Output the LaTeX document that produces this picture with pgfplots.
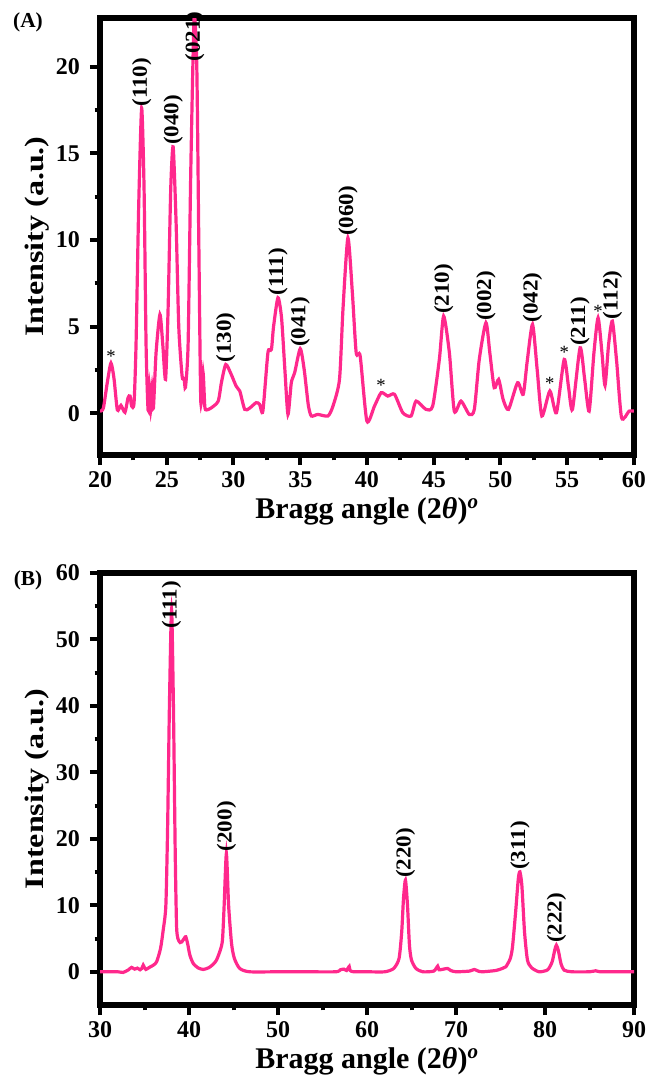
\documentclass[border=0pt]{standalone}
\usepackage{graphicx}
\usepackage{pgfplots}
\pgfplotsset{compat=1.18}
\usepackage{fontspec}
\setmainfont{Liberation Serif}
\definecolor{xrdpink}{RGB}{255,40,140}
\newcommand{\pk}{\bfseries\fontsize{16}{16}\selectfont}
\newcommand{\lb}[1]{\scalebox{1.08}[1]{#1}}
\begin{document}
\begin{tikzpicture}
\useasboundingbox (0,0) rectangle (484.5pt,-808.5pt);
\pgfplotsset{
  xrd/.style={
    scale only axis,
    width=400.5pt,
    axis line style={line width=3.8pt},
    every tick/.style={line width=3pt, black},
    tick align=outside,
    major tick length=7.5pt,
    minor tick length=4pt,
    tick pos=left,
    minor tick num=1,
    clip mode=individual,
    /pgf/number format/assume math mode=true,
    ticklabel style={font=\bfseries\fontsize{18}{18}\selectfont},
    xticklabel style={yshift=-1.5pt},
    yticklabel style={xshift=-4pt},
    xlabel style={font=\bfseries\fontsize{22.5}{22.5}\selectfont, yshift=0pt},
    ylabel style={font=\bfseries\fontsize{20}{20}\selectfont, yshift=-2pt},
    xlabel={Bragg angle (2\textit{θ})\textsuperscript{\textit{o}}},
    ylabel={\scalebox{1.2}[1]{Intensity (a.u.)}},
  }
}
% ---------------- Panel A ----------------
\begin{axis}[xrd, at={(75pt,-13.5pt)}, anchor=north west, height=327.75pt,
  xmin=20, xmax=60, ymin=-2.4, ymax=22.8,
  xtick={20,25,...,60}, ytick={0,5,...,20}]
\addplot[xrdpink, line width=2.4pt, smooth, tension=0.4] coordinates {
(20,0.13)(20.25,0.3)(20.55,1.8)(20.82,2.9)(21.05,2.0)(21.3,0.2)(21.57,0.46)(21.87,0.06)
(22.1,0.9)(22.25,1.0)(22.37,0.42)(22.55,0.6)(22.7,4)(22.9,12)(23.12,17.6)(23.3,13)
(23.45,4)(23.6,0.2)(23.7,1.6)(23.8,0.2)(23.9,1.5)(24.0,0.3)(24.2,3.5)(24.49,5.7)
(24.7,4.0)(24.91,1.96)(25.1,6)(25.3,13)(25.48,15.37)(25.7,11)(25.9,5)(26.15,2.15)
(26.3,2.0)(26.4,1.5)(26.6,4)(26.8,14)(27.05,22.8)(27.25,20)(27.4,10)(27.55,0.7)
(27.72,2.35)(27.85,0.4)(27.97,0.2)(28.3,0.3)(28.85,0.7)(29.1,1.8)(29.42,2.82)(29.8,2.3)
(30.2,1.57)(30.47,1.29)(30.84,0.23)(31.2,0.3)(31.7,0.62)(31.96,0.52)(32.2,0.13)(32.58,3.5)
(32.84,3.69)(33.0,5)(33.33,6.67)(33.6,5.5)(33.85,2.5)(34.08,-0.06)(34.33,1.77)(34.58,2.34)
(35.0,3.73)(35.3,2.5)(35.6,0.5)(35.83,-0.15)(36.32,-0.06)(37.07,-0.15)(37.45,0.42)(37.94,1.96)
(38.2,6)(38.57,10.12)(38.9,7)(39.19,3.5)(39.49,3.3)(39.99,-0.44)(40.56,0.42)(41.06,1.19)
(41.56,1.0)(42.06,1.1)(42.68,0.04)(43.3,-0.15)(43.68,0.71)(44.42,0.23)(44.92,0.42)(45.42,3.11)
(45.74,5.61)(46.17,3.5)(46.54,0.13)(47.04,0.71)(47.66,-0.06)(48.04,0.23)(48.41,3.11)(48.91,5.23)
(49.2,3.5)(49.53,1.48)(49.86,1.96)(50.2,0.8)(50.6,0.23)(51.28,1.77)(51.7,1.1)(52.0,3)
(52.4,5.13)(52.75,2.5)(53.1,-0.15)(53.7,1.29)(54.19,0.04)(54.77,3.11)(55.1,1.5)(55.39,0.23)
(55.96,3.78)(56.3,2)(56.64,0.13)(57.0,3.5)(57.31,5.51)(57.6,3.5)(57.83,1.61)(58.1,4)
(58.38,5.32)(58.7,3)(59.07,-0.25)(59.63,0.13)(60,0.13)
};
\node[rotate=90,anchor=west,font=\pk,inner sep=1pt] at (axis cs:23.12,17.6) {\lb{(110)}};
\node[rotate=90,anchor=west,font=\pk,inner sep=1pt] at (axis cs:25.48,15.4) {\lb{(040)}};
\node[rotate=90,anchor=west,font=\pk,inner sep=1pt] at (axis cs:27.1,20.2) {\lb{(021)}};
\node[rotate=90,anchor=west,font=\pk,inner sep=1pt] at (axis cs:29.42,2.85) {\lb{(130)}};
\node[rotate=90,anchor=west,font=\pk,inner sep=1pt] at (axis cs:33.33,6.7) {\lb{(111)}};
\node[rotate=90,anchor=west,font=\pk,inner sep=1pt] at (axis cs:35.0,3.75) {\lb{(041)}};
\node[rotate=90,anchor=west,font=\pk,inner sep=1pt] at (axis cs:38.57,10.15) {\lb{(060)}};
\node[rotate=90,anchor=west,font=\pk,inner sep=1pt] at (axis cs:45.74,5.65) {\lb{(210)}};
\node[rotate=90,anchor=west,font=\pk,inner sep=1pt] at (axis cs:48.91,5.25) {\lb{(002)}};
\node[rotate=90,anchor=west,font=\pk,inner sep=1pt] at (axis cs:52.4,5.15) {\lb{(042)}};
\node[rotate=90,anchor=west,font=\pk,inner sep=1pt] at (axis cs:55.96,3.8) {\lb{(211)}};
\node[rotate=90,anchor=west,font=\pk,inner sep=1pt] at (axis cs:58.38,5.35) {\lb{(112)}};
\node[anchor=base,font=\fontsize{14}{14}\selectfont,inner sep=0pt] at (axis cs:20.82,2.95) {*};
\node[anchor=base,font=\fontsize{14}{14}\selectfont,inner sep=0pt] at (axis cs:41.06,1.25) {*};
\node[anchor=base,font=\fontsize{14}{14}\selectfont,inner sep=0pt] at (axis cs:53.7,1.35) {*};
\node[anchor=base,font=\fontsize{14}{14}\selectfont,inner sep=0pt] at (axis cs:54.77,3.15) {*};
\node[anchor=base,font=\fontsize{14}{14}\selectfont,inner sep=0pt] at (axis cs:57.31,5.55) {*};
\end{axis}
% ---------------- Panel B ----------------
\begin{axis}[xrd, at={(75pt,-429.75pt)}, anchor=north west, height=324pt,
  xmin=30, xmax=90, ymin=-5, ymax=60,
  xtick={30,40,...,90}, ytick={0,10,...,60}]
\addplot[xrdpink, line width=2.4pt, smooth, tension=0.4] coordinates {
(30,0)(32,0)(32.6,-0.1)(33.2,0.3)(33.55,0.66)(33.9,0.4)(34.2,0.55)(34.5,0.3)(34.7,0.5)
(34.86,1.0)(35.0,0.6)(35.16,0.35)(35.6,0.7)(36.0,1.0)(36.36,1.5)(36.8,3.5)(37.1,6.27)
(37.4,10)(37.6,22)(37.8,40)(38.04,54.5)(38.25,40)(38.45,18)(38.6,7)(38.75,5.0)(39.0,4.4)
(39.2,4.5)(39.5,5.1)(39.64,5.26)(39.85,4.2)(40.1,2.5)(40.47,1.26)(41,0.6)(41.59,0.35)
(42.2,0.6)(42.7,1.1)(43.09,1.76)(43.5,3.2)(43.76,4.76)(43.95,10)(44.2,17.8)(44.45,10)
(44.78,4.26)(45.1,2.0)(45.7,0.5)(46.8,0)(50,0)(53,0)(56.5,0)(57.0,0.3)(57.4,0.4)(57.7,0.2)
(58.0,0.8)(58.1,0.2)(58.5,0)(60,0)(62,0)(63.0,0.5)(63.6,2.0)(63.9,6)(64.1,11)(64.32,13.8)
(64.55,10)(64.77,4)(65.0,1.76)(65.5,0.5)(66.26,0)(67.5,0.1)(67.94,0.85)(68.1,0.3)(68.6,0.4)
(69.06,0.5)(69.4,0.2)(70,0)(71.5,0.1)(72.05,0.35)(72.5,0.1)(73,0)(74.5,0.2)(75.2,0.5)
(75.6,0.75)(76.1,2)(76.35,3.76)(76.7,9)(77.0,14)(77.18,15.03)(77.4,13)(77.7,6)(78.03,1.76)
(78.5,0.6)(79.34,0)(80.3,0.3)(80.8,1.5)(81.1,3.3)(81.28,4.0)(81.5,3.2)(81.8,1.2)(82.15,0.25)
(83,0)(85,0)(85.7,0.15)(86.2,0)(88,0)(90,0)
};
\node[rotate=90,anchor=west,font=\pk,inner sep=1pt] at (axis cs:38.04,51.4) {\lb{(111)}};
\node[rotate=90,anchor=west,font=\pk,inner sep=1pt] at (axis cs:44.2,17.9) {\lb{(200)}};
\node[rotate=90,anchor=west,font=\pk,inner sep=1pt] at (axis cs:64.32,13.9) {\lb{(220)}};
\node[rotate=90,anchor=west,font=\pk,inner sep=1pt] at (axis cs:77.18,15.1) {\lb{(311)}};
\node[rotate=90,anchor=west,font=\pk,inner sep=1pt] at (axis cs:81.28,4.1) {\lb{(222)}};
\end{axis}
\node[font=\bfseries\fontsize{16}{16}\selectfont] at (21pt,-17pt) {(A)};
\node[font=\bfseries\fontsize{16}{16}\selectfont] at (21pt,-435pt) {(B)};
\end{tikzpicture}
\end{document}
